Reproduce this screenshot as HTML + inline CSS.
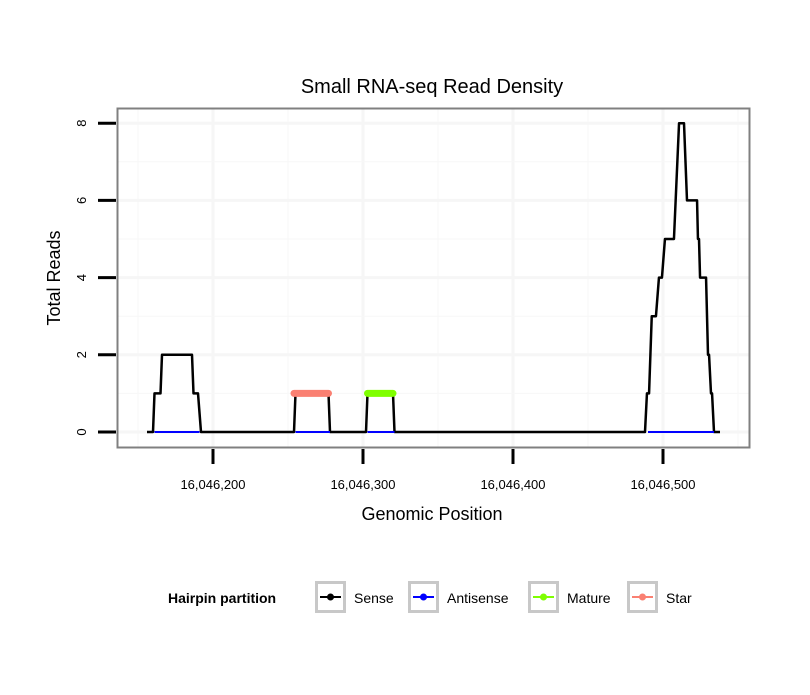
<!DOCTYPE html>
<html><head><meta charset="utf-8"><style>
body{margin:0;background:#fff;font-family:"Liberation Sans",sans-serif}
</style></head><body>
<svg id="chart" width="810" height="690" xmlns="http://www.w3.org/2000/svg" font-family="Liberation Sans, sans-serif">
<rect width="810" height="690" fill="#fff"/>
<text x="432" y="93" font-size="20" text-anchor="middle">Small RNA-seq Read Density</text>
<g id="grid"></g>
<g id="marks"></g>
<rect x="117.5" y="108.5" width="632" height="339" fill="none" stroke="#808080" stroke-width="2"/>
<g id="axes"></g>
<text x="432" y="520" font-size="18" text-anchor="middle">Genomic Position</text>
<text transform="translate(60,278) rotate(-90)" font-size="18" text-anchor="middle">Total Reads</text>
<g id="legend">
<text x="168" y="603" font-size="14" font-weight="bold">Hairpin partition</text>
</g>
</svg>
<script>
const xTicks = [200, 300, 400, 500];
const xTickLabels = ["16,046,200", "16,046,300", "16,046,400", "16,046,500"];
const yTicks = [0, 2, 4, 6, 8];
const senseX = [156,160,161,165,166,186,187,190,192,254,255,277,278,302,303,320,321,488,489.3,490.7,492.5,495.3,497.3,499.3,501.3,507.3,510.7,514,516,522.7,523.3,524,524.7,528.7,530,530.7,532,532.7,534,538];
const senseY = [0,0,1,1,2,2,1,1,0,0,1,1,0,0,1,1,0,0,1,1,3,3,4,4,5,5,8,8,6,6,5,5,4,4,2,2,1,1,0,0];
const antisenseRanges = [[161,191],[255,278],[303,321],[490,534]];
const matureRange = [303, 320];
const starRange = [254, 277];
const legendItems = ["Sense","Antisense","Mature","Star"];
const legendColors = ["#000","#0000ff","#7fff00","#fa8072"];

const NS = "http://www.w3.org/2000/svg";
const X = v => 213 + (v - 200) * 1.5;
const Y = v => 432 - v * 38.6;
function mk(tag, attrs, parent) {
  const e = document.createElementNS(NS, tag);
  for (const k in attrs) e.setAttribute(k, attrs[k]);
  document.getElementById(parent).appendChild(e);
  return e;
}
[150,250,350,450,550].forEach(v => { const l = mk("line",{x1:X(v),x2:X(v),y1:109,y2:447,stroke:"#f7f7f7","stroke-width":1},"grid");   });
xTicks.forEach(v => { const l = mk("line",{x1:X(v),x2:X(v),y1:109,y2:447,stroke:"#f6f6f6","stroke-width":3},"grid");   });
[1,3,5,7].forEach(v => { const l = mk("line",{x1:118,x2:749,y1:Y(v),y2:Y(v),stroke:"#f7f7f7","stroke-width":1},"grid");   });
yTicks.forEach(v => { const l = mk("line",{x1:118,x2:749,y1:Y(v),y2:Y(v),stroke:"#f6f6f6","stroke-width":3},"grid");   });
const sp = mk("polyline",{points:senseX.map((x,i)=>X(x)+","+Y(senseY[i])).join(" "),fill:"none",stroke:"#000","stroke-width":2.5,"stroke-linejoin":"round"},"marks");


antisenseRanges.forEach(r => {
  const l = mk("line",{x1:X(r[0]),x2:X(r[1]),y1:Y(0),y2:Y(0),stroke:"#0000ff","stroke-width":2},"marks");
  
  
});
const ml = mk("line",{x1:X(matureRange[0]),x2:X(matureRange[1]),y1:Y(1),y2:Y(1),stroke:"#7fff00","stroke-width":7,"stroke-linecap":"round"},"marks");


const stl = mk("line",{x1:X(starRange[0]),x2:X(starRange[1]),y1:Y(1),y2:Y(1),stroke:"#fa8072","stroke-width":7,"stroke-linecap":"round"},"marks");


xTicks.forEach((v,i) => {
  const t = mk("line",{x1:X(v),x2:X(v),y1:449,y2:464,stroke:"#000","stroke-width":3},"axes");
  
  
  const tx = mk("text",{x:X(v),y:489,"font-size":13,"text-anchor":"middle"},"axes");
  tx.textContent = xTickLabels[i];
  
  
});
yTicks.forEach(v => {
  const t = mk("line",{x1:98,x2:116,y1:Y(v),y2:Y(v),stroke:"#000","stroke-width":3},"axes");
  
  
  const tx = mk("text",{transform:`translate(86,${Y(v)}) rotate(-90)`,"font-size":13,"text-anchor":"middle"},"axes");
  tx.textContent = String(v);
  
  
});
const boxX = [315,408,528,627];
legendItems.forEach((n,i) => {
  const b = mk("rect",{x:boxX[i]+1.5,y:582.5,width:28,height:29,fill:"#fff",stroke:"#c8c8c8","stroke-width":3},"legend");
  
  
  const l = mk("line",{x1:boxX[i]+5,x2:boxX[i]+26,y1:597,y2:597,stroke:legendColors[i],"stroke-width":2},"legend");
  
  
  const c = mk("circle",{cx:boxX[i]+15.5,cy:597,r:3.5,fill:legendColors[i]},"legend");
  
  
  const t = mk("text",{x:boxX[i]+39,y:603,"font-size":14},"legend");
  t.textContent = n;
  
  
});
</script>
</body></html>
